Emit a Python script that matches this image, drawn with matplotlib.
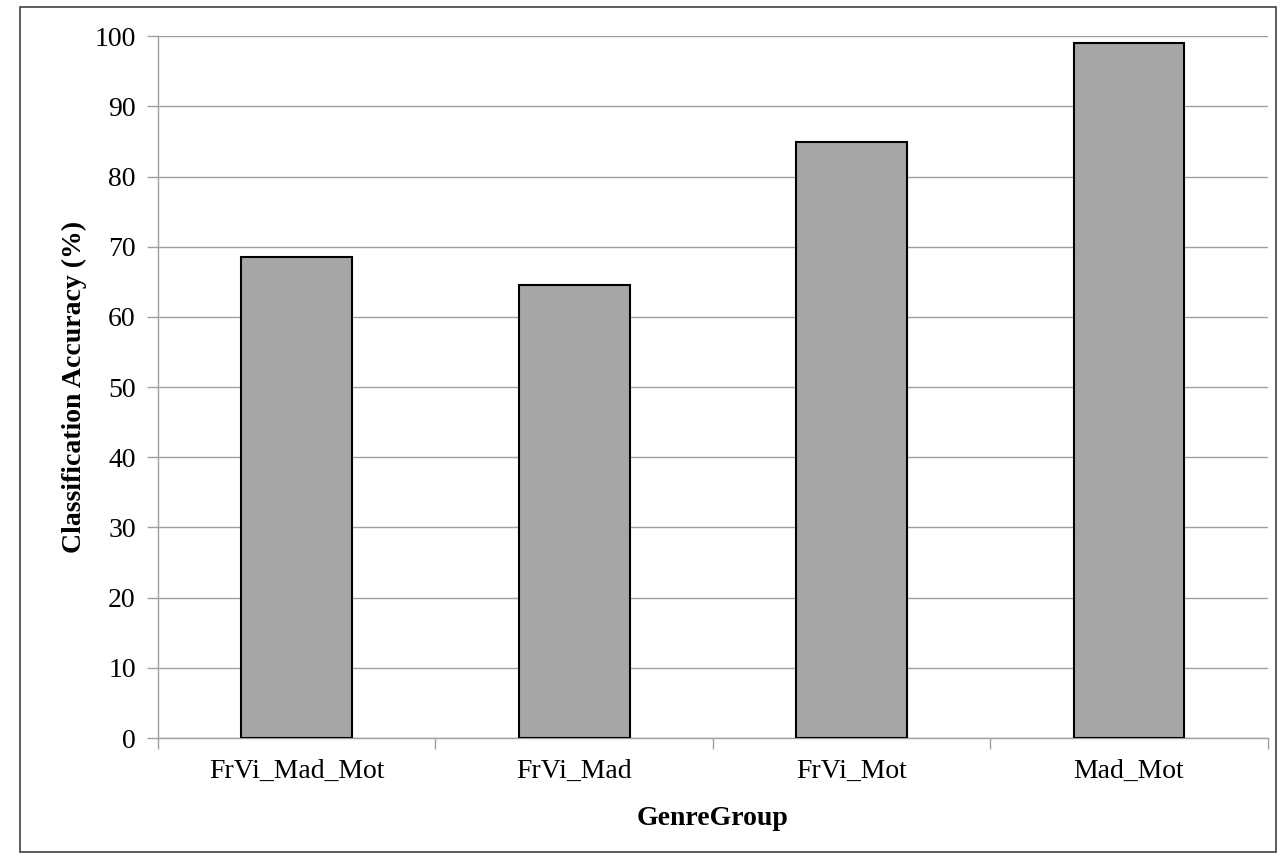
import matplotlib
matplotlib.use("Agg")
import matplotlib.pyplot as plt
from matplotlib.patches import Rectangle

# data
groups = ["FrVi_Mad_Mot", "FrVi_Mad", "FrVi_Mot", "Mad_Mot"]
accuracy = [68.5, 64.6, 84.9, 99.1]

plt.rcParams['font.family'] = ['Liberation Serif', 'DejaVu Serif']

fig = plt.figure(figsize=(12.81, 8.56), dpi=100)
W, H = 1281, 856
ax = fig.add_axes([158 / W, 1 - 738 / H, (1267.7 - 158) / W, (738 - 36.3) / H])

grey = "#a0a0a0"
x = list(range(len(groups)))
ax.bar(x, accuracy, width=0.40, color="#a6a6a6", edgecolor="black", linewidth=1.5, zorder=3)

ax.set_ylim(0, 100)
ax.set_xlim(-0.5, len(groups) - 0.5)
ax.set_yticks(range(0, 101, 10))
ax.yaxis.grid(True, color=grey, linewidth=1.0, zorder=0)
ax.set_axisbelow(True)

ax.set_xticks(x)
ax.set_xticklabels(groups, fontsize=20)
ax.set_xticks([i - 0.5 for i in range(len(groups) + 1)], minor=True)
ax.tick_params(axis='x', which='major', length=0, pad=15)
ax.tick_params(axis='x', which='minor', length=8, color=grey, width=1)
ax.tick_params(axis='y', length=8, color=grey, width=1, labelsize=20, pad=8)

for side in ['top', 'right']:
    ax.spines[side].set_visible(False)
for side in ['left', 'bottom']:
    ax.spines[side].set_color(grey)
    ax.spines[side].set_linewidth(1.0)

ax.set_xlabel("GenreGroup", fontsize=20, fontweight='bold', labelpad=16)
ax.set_ylabel("Classification Accuracy (%)", fontsize=20, fontweight='bold', labelpad=5)

# outer chart frame
fig.patches.append(Rectangle((20 / W, 1 - 852 / H), (1276 - 20) / W, (852 - 6.5) / H,
                             transform=fig.transFigure, fill=False,
                             edgecolor="#404040", linewidth=1.2))

fig.savefig("out.png", dpi=100)
